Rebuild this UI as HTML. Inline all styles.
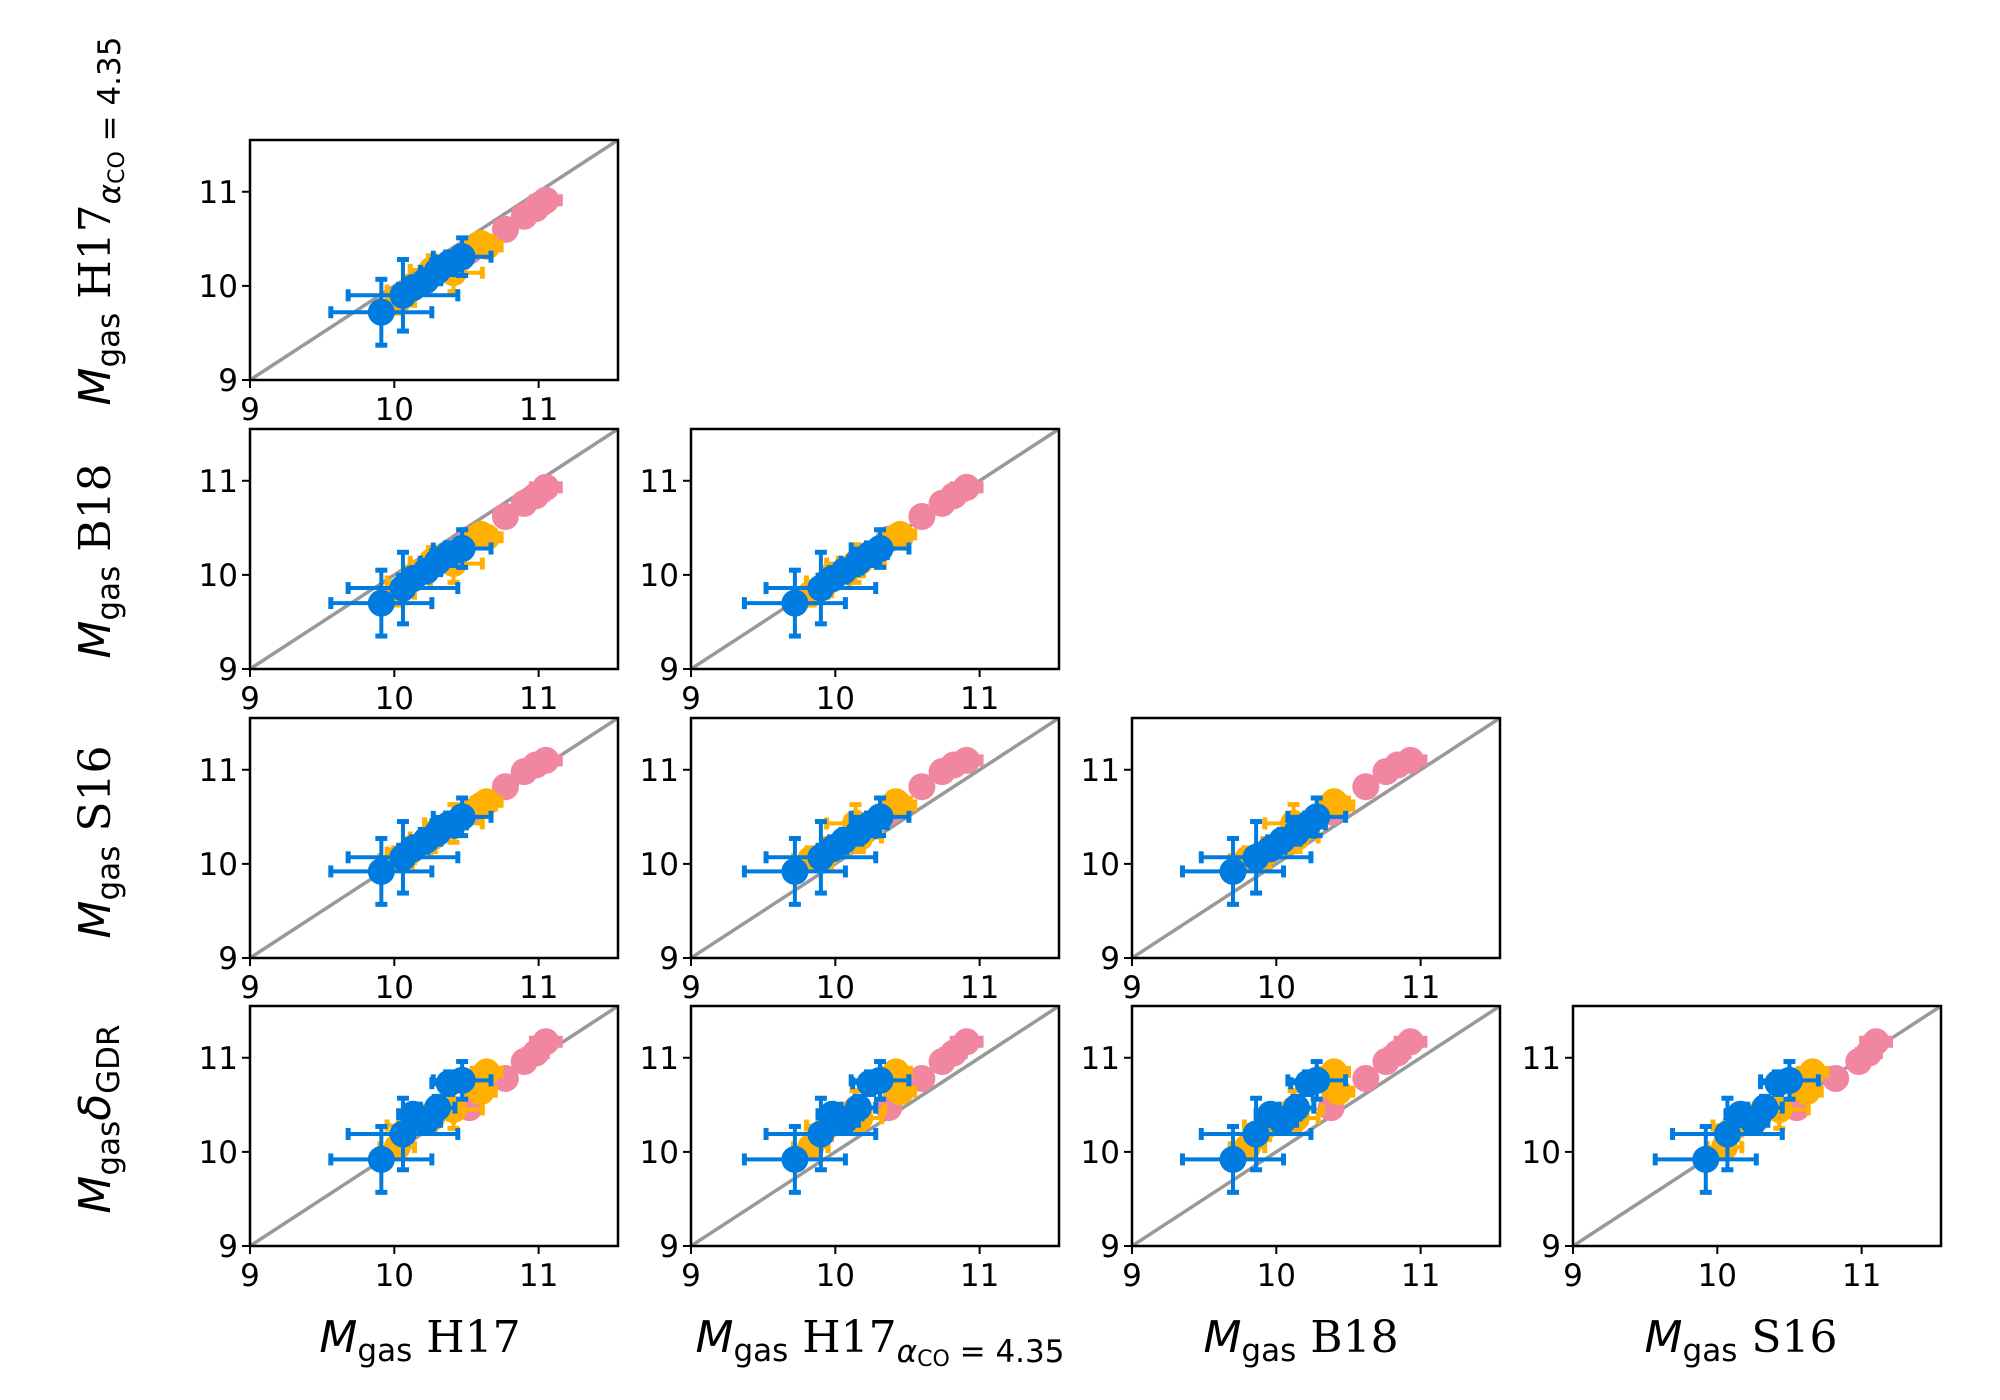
<!DOCTYPE html>
<html><head><meta charset="utf-8"><style>
html,body{margin:0;padding:0;background:#fff}
svg{display:block}
</style></head><body>
<svg id="fig" width="2000" height="1400" viewBox="0 0 2000 1400" xmlns="http://www.w3.org/2000/svg"></svg>
<script>
// ---- data (log gas mass per galaxy, per method) ----
const methodKeys = ['H17','H17a','B18','S16','GDR'];
const blueH17  = [9.91,10.06,10.13,10.22,10.30,10.38,10.47];
const blueH17a = [9.72,9.90,9.98,10.06,10.16,10.24,10.31];
const blueB18  = [9.70,9.86,9.96,10.04,10.14,10.22,10.28];
const blueS16  = [9.92,10.07,10.16,10.25,10.33,10.42,10.50];
const blueGDR  = [9.92,10.19,10.40,10.32,10.47,10.73,10.76];
const blueErr  = [0.35,0.38,0.10,0.10,0.12,0.12,0.20];
const orangeH17  = [10.02,10.10,10.26,10.41,10.60,10.64];
const orangeH17a = [9.83,9.95,10.17,10.14,10.45,10.42];
const orangeB18  = [9.80,9.93,10.14,10.12,10.43,10.40];
const orangeS16  = [10.05,10.12,10.28,10.43,10.62,10.66];
const orangeGDR  = [10.05,10.28,10.36,10.45,10.64,10.85];
const orangeErr  = [0.12,0.15,0.15,0.20,0.10,0.10];
const pinkH17  = [10.52,10.77,10.90,10.98,11.05];
const pinkH17a = [10.37,10.60,10.74,10.82,10.91];
const pinkB18  = [10.38,10.62,10.76,10.84,10.93];
const pinkS16  = [10.55,10.82,10.98,11.05,11.10];
const pinkGDR  = [10.47,10.78,10.96,11.05,11.17];
const pinkErr  = [0.06,0.05,0.06,0.08,0.10];
const tickValues = [9,10,11];
const tickLabels = ['9','10','11'];
const axisMin = 9, axisMax = 11.55;

const groups = [
  {name:'pink', color:'#f0869f', vals:{H17:pinkH17,H17a:pinkH17a,B18:pinkB18,S16:pinkS16,GDR:pinkGDR}, err:pinkErr},
  {name:'orange', color:'#ffb000', vals:{H17:orangeH17,H17a:orangeH17a,B18:orangeB18,S16:orangeS16,GDR:orangeGDR}, err:orangeErr},
  {name:'blue', color:'#007bdf', vals:{H17:blueH17,H17a:blueH17a,B18:blueB18,S16:blueS16,GDR:blueGDR}, err:blueErr}
];

const NS='http://www.w3.org/2000/svg';
const svg=document.getElementById('fig');
function mk(tag,attrs,parent){const e=document.createElementNS(NS,tag);for(const k in attrs)e.setAttribute(k,attrs[k]);(parent||svg).appendChild(e);return e;}

const colLeft=[250,691,1132,1573], rowTop=[140,429,718,1006], PW=368, PH=240;
const xKeys=['H17','H17a','B18','S16'], yKeys=['H17a','B18','S16','GDR'];
const defs=mk('defs',{});

for(let r=0;r<4;r++){
  for(let c=0;c<=r;c++){
    const L=colLeft[c], T=rowTop[r];
    const sx=v=>L+(v-axisMin)/(axisMax-axisMin)*PW;
    const sy=v=>T+PH-(v-axisMin)/(axisMax-axisMin)*PH;
    const g=mk('g',{});
    
    
    const cid='clip'+r+c;
    const cp=mk('clipPath',{id:cid},defs); mk('rect',{x:L,y:T,width:PW,height:PH},cp);
    const inner=mk('g',{'clip-path':'url(#'+cid+')'},g);
    const diag=mk('line',{x1:sx(axisMin),y1:sy(axisMin),x2:sx(axisMax),y2:sy(axisMax),stroke:'#999','stroke-width':3.5},inner);
    
    
    const xk=xKeys[c], yk=yKeys[r];
    groups.forEach(gr=>{
      const xs=gr.vals[xk], ys=gr.vals[yk];
      xs.forEach((xv,i)=>{
        const yv=ys[i], e=gr.err[i], col=gr.color;
        const pg=mk('g',{},inner);
        
        
        const px=sx(xv), py=sy(yv);
        mk('line',{x1:sx(xv-e),y1:py,x2:sx(xv+e),y2:py,stroke:col,'stroke-width':4},pg);
        mk('line',{x1:px,y1:sy(yv-e),x2:px,y2:sy(yv+e),stroke:col,'stroke-width':4},pg);
        [[sx(xv-e),py,1],[sx(xv+e),py,1],[px,sy(yv-e),0],[px,sy(yv+e),0]].forEach(([a,b,v])=>{
          if(v) mk('line',{x1:a,y1:b-6,x2:a,y2:b+6,stroke:col,'stroke-width':5},pg);
          else mk('line',{x1:a-6,y1:b,x2:a+6,y2:b,stroke:col,'stroke-width':5},pg);
        });
        mk('circle',{cx:px,cy:py,r:13.5,fill:col},pg);
      });
    });
    const frame=mk('rect',{x:L,y:T,width:PW,height:PH,fill:'none',stroke:'#000','stroke-width':2.5},g);
    
    
    tickValues.forEach((tv,i)=>{
      const X=sx(tv), Y=sy(tv);
      mk('line',{x1:X,y1:T+PH,x2:X,y2:T+PH+8,stroke:'#000','stroke-width':2},g);
      const xt=mk('text',{x:X,y:T+PH+40,'text-anchor':'middle','font-family':'DejaVu Sans, Liberation Sans, sans-serif','font-size':31},g);
      xt.textContent=tickLabels[i];
      
      
      mk('line',{x1:L-8,y1:Y,x2:L,y2:Y,stroke:'#000','stroke-width':2},g);
      const yt=mk('text',{x:L-12,y:Y+11,'text-anchor':'end','font-family':'DejaVu Sans, Liberation Sans, sans-serif','font-size':31},g);
      yt.textContent=tickLabels[i];
      
      
    });
  }
}

function label(x,y,rot,name,main,sub){
  const t=mk('text',{'text-anchor':'middle','font-size':44,'font-family':'DejaVu Sans, sans-serif',transform:'translate('+x+','+y+') rotate('+rot+')'});
  
  
  let h='<tspan font-style="italic">M</tspan><tspan font-size="31" dy="9">gas</tspan>';
  if(main==='GDR'){
    h+='<tspan dy="-9" font-style="italic">δ</tspan><tspan font-size="31" dy="9">GDR</tspan>';
  } else {
    h+='<tspan dy="-9" font-family="DejaVu Serif, Liberation Serif, serif"> '+main+'</tspan>';
    if(sub) h+='<tspan font-size="31" dy="10" font-style="italic">α</tspan><tspan font-size="22" dy="4">CO</tspan><tspan font-size="31" dy="-4"> = 4.35</tspan>';
  }
  t.innerHTML=h;
}
label(420,1352,0,'x-label-h17','H17',false);
label(880,1352,0,'x-label-h17-aco','H17',true);
label(1301,1352,0,'x-label-b18','B18',false);
label(1741,1352,0,'x-label-s16','S16',false);
label(110,221,-90,'y-label-h17-aco','H17',true);
label(110,561,-90,'y-label-b18','B18',false);
label(110,842,-90,'y-label-s16','S16',false);
label(110,1119,-90,'y-label-gdr','GDR',false);
</script>
</body></html>
